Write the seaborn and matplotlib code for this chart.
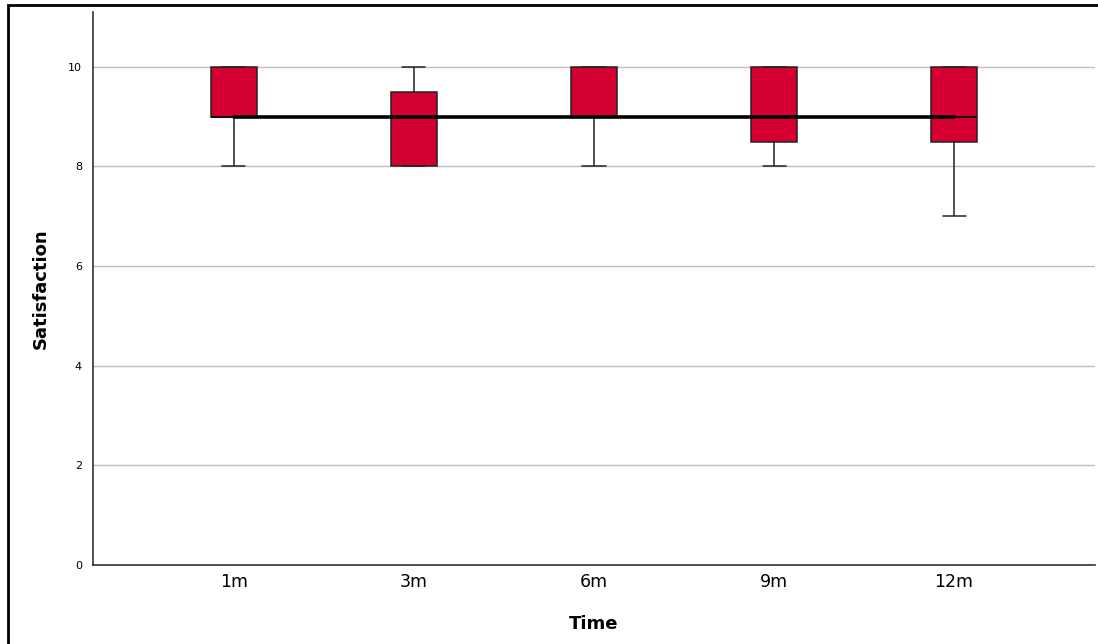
import matplotlib
matplotlib.use("Agg")
import matplotlib.pyplot as plt
import seaborn as sns
import pandas as pd
from matplotlib.patches import Rectangle

# Data (responses per time point; chosen so quartiles/whiskers match the chart)
time_labels = ["1m", "3m", "6m", "9m", "12m"]
sat_1m = [8, 9, 9, 10, 10]
sat_3m = [8, 8, 8, 9, 9, 10, 10]
sat_6m = [8, 9, 9, 10, 10]
sat_9m = [8, 8, 9, 9, 10, 10, 10]
sat_12m = [7, 8, 9, 9, 10, 10, 10]
y_ticks = [0, 2, 4, 6, 8, 10]

series = [sat_1m, sat_3m, sat_6m, sat_9m, sat_12m]
df = pd.DataFrame({
    "Time": [t for t, s in zip(time_labels, series) for _ in s],
    "Satisfaction": [v for s in series for v in s],
})
med = df.groupby("Time", sort=False)["Satisfaction"].median().reindex(time_labels).reset_index()

sns.set_theme(style="white")
plt.rcParams["font.family"] = ["DejaVu Sans"]
plt.rcParams["text.color"] = "black"
plt.rcParams["axes.labelcolor"] = "black"
plt.rcParams["xtick.color"] = "black"
plt.rcParams["ytick.color"] = "black"

fig = plt.figure(figsize=(10.98, 6.44), dpi=100)
ax = fig.add_axes([93/1098, 1 - 565/644, (1095 - 93)/1098, (565 - 12)/644])

sns.boxplot(data=df, x="Time", y="Satisfaction", order=time_labels, ax=ax,
            color="#D50032", saturation=1, width=0.256, whis=1.5,
            linewidth=1.1, linecolor="#222222", fliersize=0,
            medianprops=dict(color="#111111", linewidth=1.5))
sns.lineplot(data=med, x="Time", y="Satisfaction", ax=ax, color="black",
             linewidth=2.6, zorder=5)

ax.set_xlim(-0.783, 4.783)
ax.set_ylim(0, 11.1)
ax.set_yticks(y_ticks)
ax.set_yticklabels([str(v) for v in y_ticks], fontsize=8)
ax.tick_params(axis="x", labelsize=12.5, length=0, pad=6)
ax.tick_params(axis="y", length=0, pad=8)
for v in y_ticks[1:]:
    ax.axhline(v, color="#BDBDBD", linewidth=1, zorder=0)

for side in ["top", "right"]:
    ax.spines[side].set_visible(False)
for side in ["left", "bottom"]:
    ax.spines[side].set_color("#333333")
    ax.spines[side].set_linewidth(1.2)

ax.set_xlabel("Time", fontsize=13, fontweight="bold", labelpad=17)
ax.set_ylabel("Satisfaction", fontsize=13, fontweight="bold", labelpad=13)

# outer frame
fig.patches.append(Rectangle((8/1098, -0.1), 1.2, 1 - 5/644 + 0.1,
                             transform=fig.transFigure, fill=False,
                             edgecolor="black", linewidth=2, zorder=10))

fig.savefig("out.png", dpi=100)
